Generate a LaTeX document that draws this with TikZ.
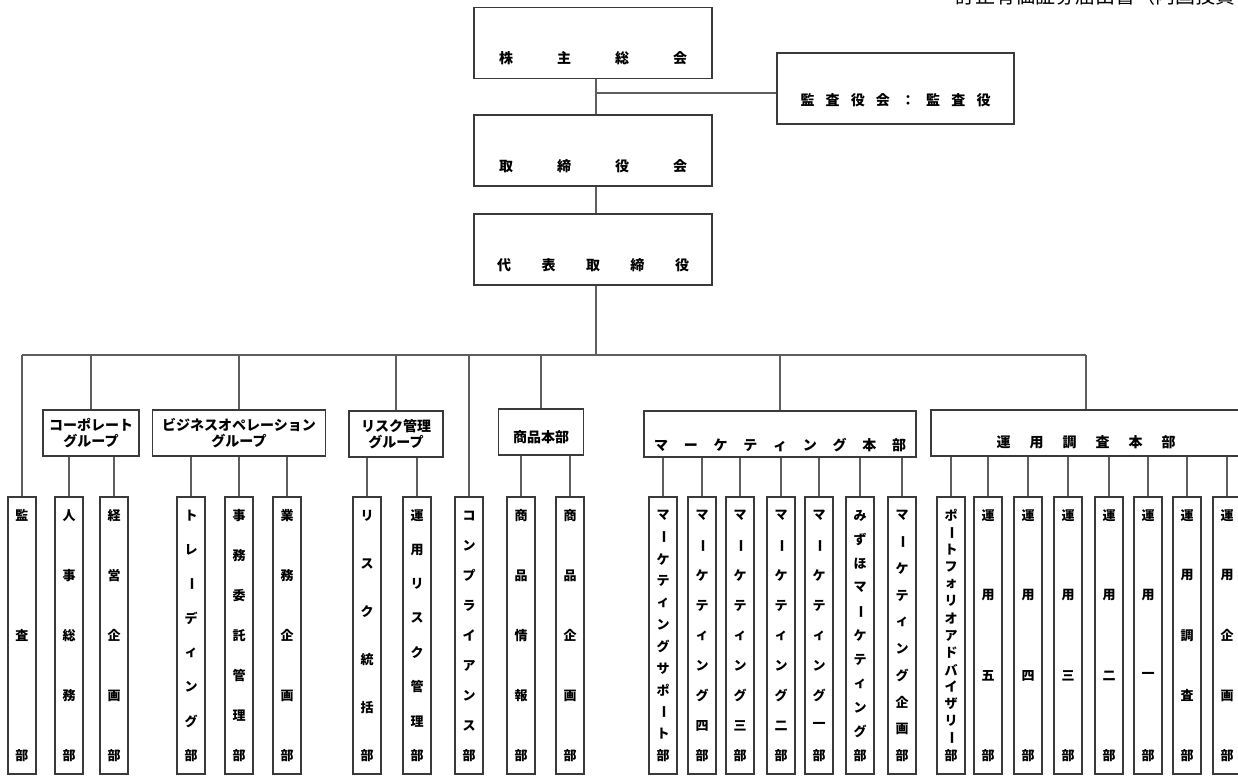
\documentclass[tikz,border=0pt]{standalone}
\usepackage{fontspec}
\newfontfamily\jp{Noto Sans CJK JP}
\usepackage{tikz}
\usetikzlibrary{positioning}
\usepackage{xcolor}
\definecolor{frame}{HTML}{3A3A3A}
\definecolor{wire}{HTML}{5E5E5E}
\makeatletter
\def\vj@bar{ー}
\def\vj@go{\@tfor\vj@c:=}
\def\hj@go{\@tfor\hj@c:=}
\newcommand\vjust[2]{%
  \edef\vj@list{#2}%
  \vbox to #1{\offinterlineskip\let\vj@sep\relax
    \expandafter\vj@go\vj@list\do{\vj@sep\let\vj@sep\vfill
      \hbox to 1em{\hss\vbox to 1em{\vss\hbox{\ifx\vj@c\vj@bar\rotatebox{-90}{ー}\else\vj@c\fi}\vss}\hss}}}}
\newcommand\hjust[2]{%
  \edef\hj@list{#2}%
  \hbox to #1{\let\hj@sep\relax
    \expandafter\hj@go\hj@list\do{\hj@sep\let\hj@sep\hfill\hj@c}}}
\makeatother
\tikzset{
  topbox/.style={draw=frame,line width=1.9pt,fill=white,minimum width=238pt,
    minimum height=71pt,inner sep=2pt,font=\jp\bfseries\fontsize{14}{16}\selectfont},
  sunk/.style={text height=#1,text depth=4pt},
  groupbox/.style={draw=frame,line width=1.9pt,minimum height=46pt,inner sep=1pt,
    align=center,font=\jp\bfseries\fontsize{14}{16}\selectfont},
  leaf/.style={draw=frame,line width=1.9pt,minimum width=28pt,minimum height=277pt,
    inner sep=0pt,font=\jp\bfseries\fontsize{13}{15}\selectfont},
  link/.style={draw=wire,line width=1.9pt}
}
\begin{document}
\begin{tikzpicture}[x=1pt,y=-1pt,node distance=35pt]
  \useasboundingbox (0,0) rectangle (1238,776);
  \clip (0,0) rectangle (1238,776);
  \node[anchor=base west,inner sep=0pt,font=\jp\fontsize{20}{22}\selectfont] (title) at (955,3.5) {訂正有価証券届出書（内国投資};
  \node[topbox,sunk=44.6pt] (kabunushi) at (593,43) {\hjust{188pt}{株主総会}};
  \node[topbox,sunk=44.6pt,below=35pt of kabunushi] (torishimari) {\hjust{188pt}{取締役会}};
  \node[topbox,sunk=44.6pt,below=26pt of torishimari] (daihyo) {\hjust{192pt}{代表取締役}};
  \node[topbox,sunk=37.6pt,minimum width=237pt] (kansayaku) at (895.5,88.5) {\hjust{190pt}{監査役会：監査役}};
  \node[groupbox,minimum width=96pt] (corp) at (91,433) {コーポレート\\グループ};
  \node[groupbox,minimum width=173pt] (bizop) at (239,433) {ビジネスオペレーション\\グループ};
  \node[groupbox,minimum width=94pt] (risk) at (396,434) {リスク管理\\グループ};
  \node[groupbox,minimum width=85pt,sunk=24.6pt] (shohin) at (541,432) {商品本部};
  \node[groupbox,minimum width=272pt,sunk=36.6pt] (mkt) at (780,434) {\hjust{252pt}{マーケティング本部}};
  \node[groupbox,minimum width=310pt,sunk=32.6pt] (unyo) at (1086,433) {\hjust{179pt}{運用調査本部}};
  \foreach \x/\n/\lbl in {22/kansa/監査部, 69/jinji/人事総務部, 114/keiei/経営企画部,
      191/trading/トレーディング部, 239/jimu/事務委託管理部, 287/gyomu/業務企画部,
      367/risktokatsu/リスク統括部, 417/unyorisk/運用リスク管理部, 469/compliance/コンプライアンス部,
      521/shjoho/商品情報部, 570/shkikaku/商品企画部,
      663/mktsup/マーケティングサポート部, 702/mkt4/マーケティング四部, 740/mkt3/マーケティング三部,
      781/mkt2/マーケティング二部, 819/mkt1/マーケティング一部, 860/mizuho/みずほマーケティング部,
      902/mktkikaku/マーケティング企画部,
      951/pfa/ポートフォリオアドバイザリー部, 988/unyo5/運用五部, 1028/unyo4/運用四部,
      1068/unyo3/運用三部, 1109/unyo2/運用二部, 1148/unyo1/運用一部,
      1187/unyochosa/運用調査部, 1227/unyokikaku/運用企画部}
    \node[leaf] (\n) at (\x,635.5) {\vjust{253pt}{\lbl}};
  \coordinate (stem) at (596,0);
  \coordinate (tap) at (596,93);
  \coordinate (bus) at (596,355);
  \draw[link] (kabunushi.south -| stem) -- (torishimari.north -| stem);
  \draw[link] (tap) -- (tap -| kansayaku.west);
  \draw[link] (torishimari.south -| stem) -- (daihyo.north -| stem);
  \draw[link] (daihyo.south -| stem) -- (bus);
  \draw[link] (kansa.north |- bus) -- (unyo.north |- bus);
  \foreach \n in {kansa,corp,bizop,risk,compliance,shohin,mkt,unyo}
    \draw[link] (\n.north) -- (\n.north |- bus);
  \foreach \g/\c in {corp/jinji,corp/keiei,bizop/trading,bizop/jimu,bizop/gyomu,
      risk/risktokatsu,risk/unyorisk,shohin/shjoho,shohin/shkikaku,
      mkt/mktsup,mkt/mkt4,mkt/mkt3,mkt/mkt2,mkt/mkt1,mkt/mizuho,mkt/mktkikaku,
      unyo/pfa,unyo/unyo5,unyo/unyo4,unyo/unyo3,unyo/unyo2,unyo/unyo1,unyo/unyochosa,unyo/unyokikaku}
    \draw[link] (\c.north) -- (\c.north |- \g.south);
\end{tikzpicture}
\end{document}
